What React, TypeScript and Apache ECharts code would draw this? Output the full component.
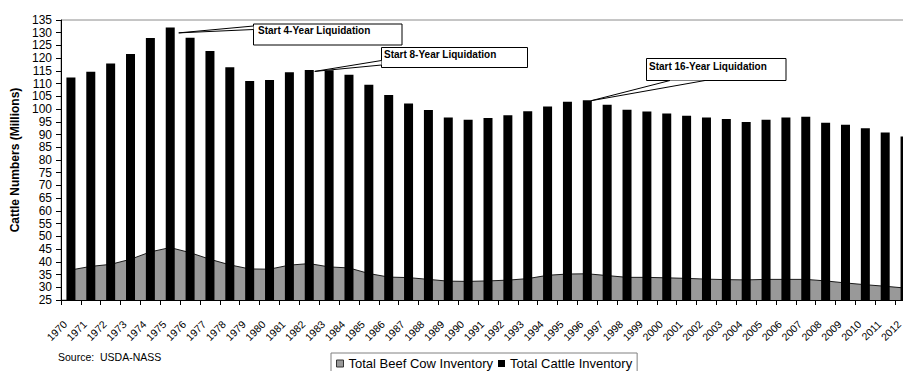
import React, { useEffect, useRef } from "react";
import * as echarts from "echarts";

// Jan. 1 inventories, million head
const years = [
  "1970", "1971", "1972", "1973", "1974", "1975", "1976", "1977", "1978", "1979",
  "1980", "1981", "1982", "1983", "1984", "1985", "1986", "1987", "1988", "1989",
  "1990", "1991", "1992", "1993", "1994", "1995", "1996", "1997", "1998", "1999",
  "2000", "2001", "2002", "2003", "2004", "2005", "2006", "2007", "2008", "2009",
  "2010", "2011", "2012",
];

const totalCattle = [
  112.4, 114.7, 117.9, 121.6, 127.9, 132.1, 128.0, 122.8, 116.4, 111.0,
  111.4, 114.5, 115.4, 115.3, 113.5, 109.6, 105.5, 102.2, 99.6, 96.7,
  95.8, 96.5, 97.6, 99.2, 101.0, 102.9, 103.5, 101.7, 99.7, 99.1,
  98.3, 97.4, 96.7, 96.1, 94.9, 95.8, 96.7, 97.0, 94.6, 93.8,
  92.5, 90.8, 89.2,
];

const beefCows = [
  36.8, 38.2, 39.0, 41.0, 43.9, 45.6, 43.6, 41.0, 38.8, 37.2,
  37.1, 38.7, 39.3, 38.0, 37.6, 35.4, 34.0, 33.8, 33.1, 32.4,
  32.3, 32.5, 32.8, 33.4, 34.7, 35.2, 35.3, 34.6, 33.9, 33.9,
  33.7, 33.5, 33.2, 33.0, 32.9, 33.1, 33.1, 33.1, 32.5, 31.7,
  31.0, 30.4, 29.7,
];

const yMin = 25;
const yMax = 135;
const yStep = 5;

// Liquidation cycles and the year each one starts
const callouts = [
  { year: "1975", text: "Start 4-Year Liquidation" },
  { year: "1982", text: "Start 8-Year Liquidation" },
  { year: "1996", text: "Start 16-Year Liquidation" },
];

const FONT = '"Liberation Sans", Arial, Helvetica, sans-serif';
const BAR_WIDTH = 9;

// Box placement for each callout, plus the tip offset from the bar top centre
const calloutLayout = [
  { x: 253.5, y: 24, w: 148.5, h: 21, tx: 4.5, ty: 6.5, tip: [8.5, 5.5], base: [[253.5, 26], [253.5, 29.5]] },
  { x: 381.5, y: 47.5, w: 146, h: 20, tx: 2.5, ty: 6.5, tip: [5.5, 1.5], base: [[381.5, 60.5], [381.5, 65]] },
  { x: 646.5, y: 58.5, w: 139.5, h: 22, tx: 2.5, ty: 8, tip: [4, 0.5], base: [[670, 80.5], [705, 80.5]] },
];

export default function App() {
  const ref = useRef<HTMLDivElement>(null);

  useEffect(() => {
    if (!ref.current) return;
    const chart = echarts.init(ref.current, undefined, { renderer: "svg" });

    chart.setOption({
      animation: false,
      backgroundColor: "#ffffff",
      textStyle: { fontFamily: FONT, color: "#000" },
      grid: {
        left: 61,
        top: 20,
        right: 5,
        bottom: 71,
        show: true,
        borderColor: "#8c8c8c",
        borderWidth: 1,
        backgroundColor: "transparent",
      },
      legend: {
        left: 331,
        top: 353,
        orient: "horizontal",
        backgroundColor: "#ffffff",
        borderColor: "#808080",
        borderWidth: 1,
        borderRadius: 0,
        padding: [4, 5, 6, 5],
        itemWidth: 7,
        itemHeight: 7,
        itemGap: 5,
        selectedMode: false,
        textStyle: { fontSize: 13, color: "#000", fontFamily: FONT },
        data: [
          {
            name: "Total Beef Cow Inventory",
            icon: "rect",
            itemStyle: { color: "#999999", borderColor: "#333333", borderWidth: 1 },
          },
          { name: "Total Cattle Inventory", icon: "rect", itemStyle: { color: "#000000" } },
        ],
      },
      xAxis: {
        type: "category",
        data: years,
        axisLine: { show: true, lineStyle: { color: "#000", width: 1 } },
        axisTick: { show: true, interval: 0, length: 5, lineStyle: { color: "#000" } },
        axisLabel: {
          interval: 0,
          rotate: 45,
          fontSize: 10.5,
          color: "#000",
          fontFamily: FONT,
          margin: 17,
          padding: [0, 8, 0, 0],
        },
        splitLine: { show: false },
      },
      yAxis: {
        type: "value",
        min: yMin,
        max: yMax,
        interval: yStep,
        name: "Cattle Numbers (Millions)",
        nameLocation: "middle",
        nameGap: 38,
        nameTextStyle: { fontSize: 12, fontWeight: "bold", color: "#000", fontFamily: FONT },
        axisLine: { show: true, lineStyle: { color: "#000", width: 1 } },
        axisTick: { show: true, length: 5, lineStyle: { color: "#000" } },
        axisLabel: {
          fontSize: 12,
          color: "#000",
          fontFamily: FONT,
          margin: 9,
        },
        splitLine: { show: false },
      },
      series: [
        {
          name: "Total Beef Cow Inventory",
          type: "line",
          data: beefCows,
          symbol: "none",
          z: 1,
          lineStyle: { color: "#1a1a1a", width: 1 },
          areaStyle: { color: "#999999", opacity: 1 },
        },
        {
          name: "Total Cattle Inventory",
          type: "bar",
          data: totalCattle,
          barWidth: BAR_WIDTH,
          z: 2,
          itemStyle: { color: "#000000" },
        },
      ],
    });

    // Callout boxes pointing at the bar tops of each liquidation start year
    const graphics: any[] = [
      {
        type: "text",
        id: "source",
        x: 58,
        y: 356.5,
        style: {
          text: "Source:  USDA-NASS",
          font: `10.5px ${FONT}`,
          fill: "#000",
          verticalAlign: "middle",
        },
      },
    ];

    callouts.forEach((c, i) => {
      const lay = calloutLayout[i];
      const idx = years.indexOf(c.year);
      const p = chart.convertToPixel({ seriesIndex: 1 }, [idx, totalCattle[idx]]) as number[];
      const tip = [p[0] + lay.tip[0], p[1] + lay.tip[1]];
      graphics.push(
        {
          type: "rect",
          id: `box${i}`,
          z: 10,
          shape: { x: lay.x, y: lay.y, width: lay.w, height: lay.h },
          style: { fill: "#ffffff", stroke: "#000", lineWidth: 1 },
        },
        {
          type: "polygon",
          id: `wedge${i}`,
          z: 11,
          shape: { points: [tip, lay.base[0], lay.base[1]] },
          style: { fill: "#ffffff", stroke: null },
        },
        {
          type: "polyline",
          id: `wedgeLine${i}`,
          z: 12,
          shape: { points: [lay.base[0], tip, lay.base[1]] },
          style: { stroke: "#000", lineWidth: 1, fill: null },
        },
        {
          type: "text",
          id: `label${i}`,
          z: 13,
          x: lay.x + lay.tx,
          y: lay.y + lay.ty,
          style: {
            text: c.text,
            font: `bold 10px ${FONT}`,
            fill: "#000",
            verticalAlign: "middle",
          },
        }
      );
    });

    chart.setOption({ graphic: graphics });

    return () => chart.dispose();
  }, []);

  return (
    <div
      style={{
        position: "fixed",
        left: 0,
        top: 0,
        width: 903,
        height: 371,
        overflow: "hidden",
        background: "#fff",
      }}
    >
      <div ref={ref} style={{ width: 920, height: 371 }} />
    </div>
  );
}
